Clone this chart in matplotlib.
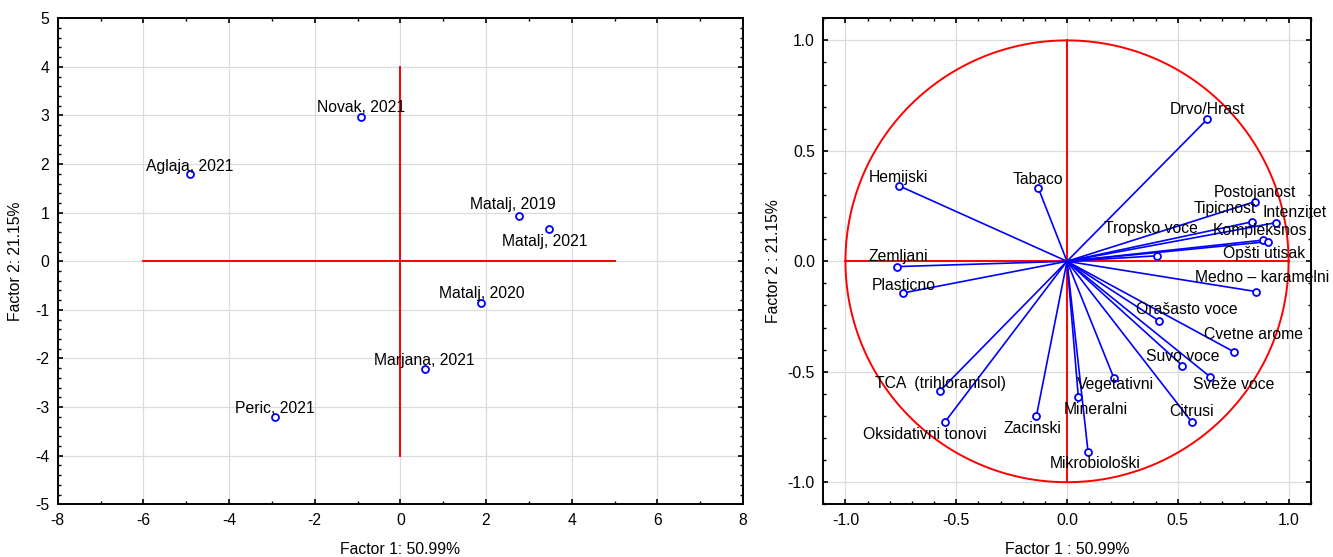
import numpy as np
import matplotlib
matplotlib.use("Agg")
import matplotlib.pyplot as plt
from matplotlib.ticker import MultipleLocator, FormatStrFormatter

plt.rcParams['font.family'] = ['Liberation Sans', 'DejaVu Sans']
plt.rcParams['axes.unicode_minus'] = False

# ---- Left: factor scores of samples ----
samples = ["Aglaja, 2021", "Novak, 2021", "Matalj, 2019", "Matalj, 2021",
           "Matalj, 2020", "Marjana, 2021", "Peric, 2021"]
score_f1 = [-4.91, -0.91, 2.76, 3.47, 1.88, 0.57, -2.92]
score_f2 = [1.79, 2.96, 0.93, 0.67, -0.86, -2.22, -3.20]

# ---- Right: variable loadings ----
variables = ["Hemijski", "Tabaco", "Zemljani", "Plasticno", "TCA  (trihloranisol)",
             "Oksidativni tonovi", "Zacinski", "Drvo/Hrast", "Postojanost", "Tipicnost",
             "Intenzitet", "Kompleksnos", "Opšti utisak", "Tropsko voce",
             "Medno – karamelni", "Orašasto voce", "Cvetne arome", "Suvo voce",
             "Sveže voce", "Vegetativni", "Mineralni", "Citrusi", "Mikrobiološki"]
load_f1 = [-0.759, -0.129, -0.766, -0.738, -0.575, -0.550, -0.138, 0.634, 0.848, 0.836,
           0.943, 0.886, 0.907, 0.407, 0.853, 0.414, 0.752, 0.521, 0.645, 0.211,
           0.051, 0.562, 0.095]
load_f2 = [0.342, 0.330, -0.024, -0.143, -0.588, -0.726, -0.700, 0.644, 0.270, 0.179,
           0.175, 0.096, 0.089, 0.025, -0.137, -0.269, -0.409, -0.472, -0.522, -0.527,
           -0.613, -0.726, -0.862]

# label offsets in pixels (dx, dy) - layout only
score_off = [(0, 3), (0, 5), (-6, 7.5), (-4, -17.5), (1, 5), (0, 4), (0, 4)]
load_off = [(0, 4), (0, 4), (1, 6), (0, 3), (1, 3), (-20, -17.5), (-4, -17.3),
            (0, 5), (0, 5), (-27, 8.4), (19, 6), (-3, 5), (-4, -16.6), (-6, 22.4),
            (6.5, 10), (28.5, 6.4), (20, 12.4), (0, 4.7), (24, -12.3), (2, -11.6),
            (18, -17.3), (0, 6), (7, -16.6)]

W, H = 1333, 557
fig = plt.figure(figsize=(W / 100, H / 100), dpi=100)

def px_axes(x0, y0, x1, y1):
    return fig.add_axes([x0 / W, 1 - y1 / H, (x1 - x0) / W, (y1 - y0) / H])

def style(ax):
    for s in ax.spines.values():
        s.set_linewidth(1.4)
        s.set_color('black')
    ax.tick_params(which='both', direction='in', top=True, right=True,
                   labelsize=11.3, colors='black', pad=6)
    ax.tick_params(which='major', length=3.5, width=1.2)
    ax.tick_params(which='minor', length=2.2, width=1.0)
    ax.grid(True, which='major', color='#dcdcdc', linewidth=0.9)
    ax.set_axisbelow(True)

TFS = 11.3

# Left axes
ax1 = px_axes(57.7, 18.3, 743, 504.3)
style(ax1)
ax1.set_xlim(-8, 8)
ax1.set_ylim(-5, 5)
ax1.xaxis.set_major_locator(MultipleLocator(2))
ax1.xaxis.set_minor_locator(MultipleLocator(1))
ax1.yaxis.set_major_locator(MultipleLocator(1))
ax1.yaxis.set_minor_locator(MultipleLocator(0.2))
ax1.plot([-6, 5], [0, 0], color='red', lw=1.4, zorder=2)
ax1.plot([0, 0], [-4, 4], color='red', lw=1.4, zorder=2)
ax1.plot(score_f1, score_f2, 'o', ms=5, mfc='white', mec='blue', mew=1.3, zorder=4)
for name, x, y, (dx, dy) in zip(samples, score_f1, score_f2, score_off):
    ax1.annotate(name, (x, y), xytext=(dx, dy), textcoords='offset pixels',
                 ha='center', va='baseline', fontsize=TFS, zorder=5)
ax1.set_xlabel("Factor 1: 50.99%", fontsize=TFS, labelpad=10)
ax1.set_ylabel("Factor 2: 21.15%", fontsize=TFS, labelpad=9)

# Right axes
ax2 = px_axes(823.3, 18.3, 1310.7, 504.3)
style(ax2)
ax2.set_xlim(-1.1, 1.1)
ax2.set_ylim(-1.1, 1.1)
ax2.xaxis.set_major_locator(MultipleLocator(0.5))
ax2.xaxis.set_minor_locator(MultipleLocator(0.1))
ax2.yaxis.set_major_locator(MultipleLocator(0.5))
ax2.yaxis.set_minor_locator(MultipleLocator(0.1))
ax2.xaxis.set_major_formatter(FormatStrFormatter('%.1f'))
ax2.yaxis.set_major_formatter(FormatStrFormatter('%.1f'))
t = np.linspace(0, 2 * np.pi, 400)
ax2.plot(np.cos(t), np.sin(t), color='red', lw=1.4, zorder=2)
ax2.plot([-1, 1], [0, 0], color='red', lw=1.4, zorder=2)
ax2.plot([0, 0], [-1, 1], color='red', lw=1.4, zorder=2)
for x, y in zip(load_f1, load_f2):
    ax2.plot([0, x], [0, y], color='blue', lw=1.2, zorder=3)
ax2.plot(load_f1, load_f2, 'o', ms=5, mfc='white', mec='blue', mew=1.3, zorder=4)
for name, x, y, (dx, dy) in zip(variables, load_f1, load_f2, load_off):
    ax2.annotate(name, (x, y), xytext=(dx, dy), textcoords='offset pixels',
                 ha='center', va='baseline', fontsize=TFS, zorder=5,
                 annotation_clip=False)
ax2.set_xlabel("Factor 1 : 50.99%", fontsize=TFS, labelpad=10)
ax2.set_ylabel("Factor 2 : 21.15%", fontsize=TFS, labelpad=5)

fig.savefig("out.png", dpi=100)
